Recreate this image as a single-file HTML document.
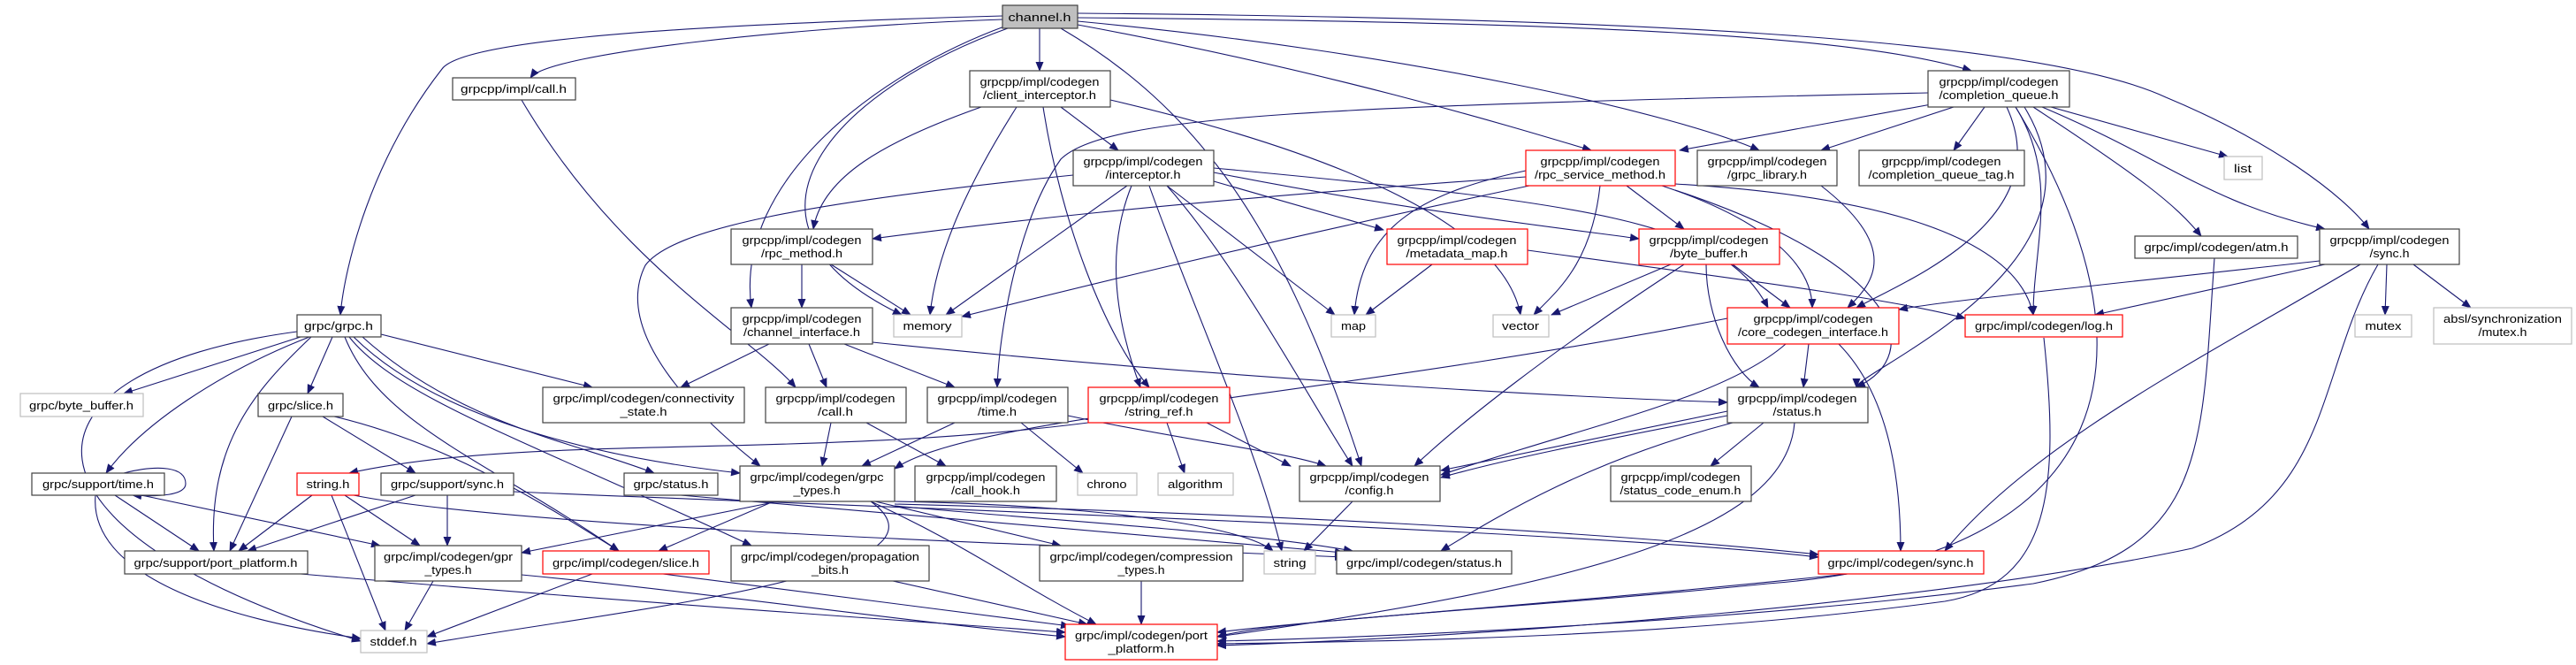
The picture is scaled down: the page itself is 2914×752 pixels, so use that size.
<!DOCTYPE html>
<html><head><meta charset="utf-8"><style>
html,body{margin:0;padding:0;background:#fff;}
svg{display:block;}
text{font-family:"Liberation Sans","DejaVu Sans",sans-serif;font-size:13px;fill:#000;text-anchor:middle;}
.e{fill:none;stroke:#191970;stroke-width:1.1;}
.n{fill:#fff;stroke:#404040;stroke-width:1.2;}
.r{fill:#fff;stroke:#ff0000;stroke-width:1.2;}
.g{fill:#fff;stroke:#bfbfbf;stroke-width:1.2;}
</style></head><body>
<svg width="2914" height="752" viewBox="0 0 2914 752" xmlns="http://www.w3.org/2000/svg">
<defs><marker id="a" markerWidth="11" markerHeight="9" refX="10" refY="4.5" orient="auto" markerUnits="userSpaceOnUse"><path d="M0,0 L11,4.5 L0,9 z" fill="#191970"/></marker></defs>
<g class="e" marker-end="url(#a)">
<path d="M1134 22 C900 30 620 60 600 88"/>
<path d="M1134 18 C700 30 520 50 500 78 C420 180 390 300 385 356"/>
<path d="M1176 32 L1176 80"/>
<path d="M1219 20 C1800 25 2100 40 2230 80"/>
<path d="M1219 28 C1500 80 1700 140 1800 170"/>
<path d="M1219 24 C1600 60 1900 130 1990 170"/>
<path d="M1219 15 C1800 20 2300 40 2450 110 C2570 160 2650 220 2680 259"/>
<path d="M1140 32 C950 100 800 250 1020 356"/>
<path d="M1136 30 C1000 80 830 200 850 348"/>
<path d="M1200 32 C1350 120 1450 250 1540 527"/>
<path d="M590 113 C700 300 850 380 900 438"/>
<path d="M340 381 L140 445"/>
<path d="M376 381 L348 445"/>
<path d="M350 381 C250 420 160 480 120 535"/>
<path d="M352 381 C290 440 235 500 242 623"/>
<path d="M431 378 L670 438"/>
<path d="M400 381 C500 480 700 520 837 535"/>
<path d="M410 381 C520 480 650 500 740 535"/>
<path d="M390 381 C430 480 550 520 700 623"/>
<path d="M395 381 C450 450 600 500 850 617"/>
<path d="M336 375 C0 420 0 600 408 725"/>
<path d="M1110 121 C1000 160 930 200 920 259"/>
<path d="M1150 121 C1100 200 1060 280 1052 356"/>
<path d="M1200 121 L1265 170"/>
<path d="M1180 121 C1200 250 1250 380 1300 438"/>
<path d="M1256 113 C1500 170 1700 250 1720 356"/>
<path d="M2190 117 L1900 170"/>
<path d="M2210 121 L2060 170"/>
<path d="M2245 121 L2210 170"/>
<path d="M2320 121 L2520 177"/>
<path d="M2300 121 C2420 200 2460 230 2490 267"/>
<path d="M2310 121 C2450 180 2500 230 2630 259"/>
<path d="M2280 121 C2330 200 2300 280 2300 356"/>
<path d="M2270 121 C2330 250 2150 320 2100 348"/>
<path d="M2290 121 C2400 300 2100 420 2100 438"/>
<path d="M2181 105 C1500 120 1250 130 1200 180 C1150 250 1130 380 1128 438"/>
<path d="M2280 121 C2450 400 2400 630 2000 660 C1700 690 1450 700 1377 720"/>
<path d="M1275 210 L1070 356"/>
<path d="M1320 210 L1510 356"/>
<path d="M1373 205 L1565 260"/>
<path d="M1373 195 C1600 240 1800 262 1854 270"/>
<path d="M1373 190 C1800 230 1950 250 2000 348"/>
<path d="M1320 210 C1400 300 1480 450 1530 527"/>
<path d="M1300 210 C1350 350 1420 500 1450 623"/>
<path d="M1280 210 C1260 260 1250 330 1290 438"/>
<path d="M1214 198 C900 230 760 260 730 300 C690 380 800 480 860 527"/>
<path d="M1726 200 C1300 230 1100 255 987 270"/>
<path d="M1730 210 C1400 280 1200 330 1088 358"/>
<path d="M1726 193 C1600 220 1540 260 1532 356"/>
<path d="M1810 210 C1800 300 1760 330 1735 356"/>
<path d="M1840 210 L1905 259"/>
<path d="M1880 210 C2000 250 2050 300 2050 348"/>
<path d="M1895 208 C2100 220 2280 260 2300 356"/>
<path d="M1895 215 C2150 300 2180 400 2100 438"/>
<path d="M2060 210 C2150 280 2120 320 2090 348"/>
<path d="M1620 299 L1545 356"/>
<path d="M1728 283 C2000 320 2150 340 2223 360"/>
<path d="M1890 299 L1755 356"/>
<path d="M1960 299 L2025 348"/>
<path d="M1930 299 C1930 360 1960 420 1990 438"/>
<path d="M1905 299 C1750 400 1650 480 1600 527"/>
<path d="M2624 295 C2400 320 2200 340 2148 350"/>
<path d="M2630 299 L2370 356"/>
<path d="M2700 299 L2698 356"/>
<path d="M2730 299 L2795 348"/>
<path d="M2670 299 C2500 400 2300 500 2200 623"/>
<path d="M2690 299 C2620 420 2640 560 2480 620 C2200 680 1700 720 1377 730"/>
<path d="M2505 292 C2490 500 2500 620 2300 660 C2000 700 1600 720 1377 725"/>
<path d="M2312 382 C2330 550 2320 660 2200 680 C1900 720 1600 725 1377 728"/>
<path d="M2046 389 L2040 438"/>
<path d="M2020 389 C1950 450 1800 480 1630 537"/>
<path d="M1954 360 C1500 450 1100 470 1012 530"/>
<path d="M2080 389 C2140 450 2150 550 2150 623"/>
<path d="M870 389 L770 438"/>
<path d="M915 389 L935 438"/>
<path d="M955 389 L1080 438"/>
<path d="M987 387 C1400 430 1800 450 1954 455"/>
<path d="M907 299 L907 348"/>
<path d="M940 299 L1030 356"/>
<path d="M940 478 L930 527"/>
<path d="M980 478 L1070 527"/>
<path d="M1080 478 L975 527"/>
<path d="M1155 478 L1225 535"/>
<path d="M1208 470 C1350 500 1450 510 1500 527"/>
<path d="M1320 478 L1340 535"/>
<path d="M1365 478 L1460 527"/>
<path d="M1231 478 C900 520 600 490 395 535"/>
<path d="M1954 465 L1630 532"/>
<path d="M1954 470 C1800 500 1700 520 1630 540"/>
<path d="M1995 478 L1935 527"/>
<path d="M1960 478 C1800 520 1700 580 1630 623"/>
<path d="M2030 478 C2020 600 1800 660 1377 720"/>
<path d="M1530 567 L1475 623"/>
<path d="M880 567 L590 625"/>
<path d="M875 567 L745 623"/>
<path d="M990 567 L1200 617"/>
<path d="M1012 567 C1200 570 1400 590 1440 623"/>
<path d="M985 567 C1100 620 1150 660 1240 706"/>
<path d="M985 567 C1100 650 700 690 483 728"/>
<path d="M1012 570 C1400 580 1800 600 2057 627"/>
<path d="M1012 572 C1200 590 1400 600 1530 623"/>
<path d="M330 471 L260 623"/>
<path d="M365 471 L470 535"/>
<path d="M378 471 C500 500 600 560 700 623"/>
<path d="M140 535 C180 525 210 528 210 547 C210 560 180 562 150 560"/>
<path d="M130 560 L225 623"/>
<path d="M108 560 C100 650 250 700 408 722"/>
<path d="M160 560 L430 617"/>
<path d="M353 560 L270 623"/>
<path d="M375 560 L436 713"/>
<path d="M390 560 L475 617"/>
<path d="M400 560 C600 600 1300 620 1520 630"/>
<path d="M470 560 L280 623"/>
<path d="M506 560 L506 617"/>
<path d="M581 556 C900 570 1800 600 2057 630"/>
<path d="M770 560 L1520 625"/>
<path d="M340 649 C700 680 1000 700 1205 715"/>
<path d="M490 657 L458 713"/>
<path d="M590 650 C800 670 1000 700 1205 720"/>
<path d="M670 649 L483 720"/>
<path d="M750 649 L1210 708"/>
<path d="M1010 657 L1230 706"/>
<path d="M1291 657 L1291 706"/>
<path d="M2090 649 C1800 680 1500 700 1377 715"/>
</g>
<!-- nodes -->
<rect x="1134" y="6" width="85" height="26" fill="#bfbfbf" stroke="#404040" stroke-width="1.2"/><text x="1176" y="24" textLength="71" lengthAdjust="spacingAndGlyphs">channel.h</text>
<rect class="n" x="512" y="88" width="139" height="25"/><text x="581" y="105" textLength="120" lengthAdjust="spacingAndGlyphs">grpcpp/impl/call.h</text>
<rect class="n" x="336" y="356" width="95" height="25"/><text x="383" y="373" textLength="78" lengthAdjust="spacingAndGlyphs">grpc/grpc.h</text>
<rect class="n" x="1097" y="80" width="159" height="41"/><text x="1176" y="97" textLength="135" lengthAdjust="spacingAndGlyphs">grpcpp/impl/codegen</text><text x="1176" y="112" textLength="128" lengthAdjust="spacingAndGlyphs">/client_interceptor.h</text>
<rect class="n" x="1214" y="170" width="159" height="40"/><text x="1293" y="187" textLength="135" lengthAdjust="spacingAndGlyphs">grpcpp/impl/codegen</text><text x="1293" y="202" textLength="85" lengthAdjust="spacingAndGlyphs">/interceptor.h</text>
<rect class="n" x="827" y="259" width="160" height="40"/><text x="907" y="276" textLength="135" lengthAdjust="spacingAndGlyphs">grpcpp/impl/codegen</text><text x="907" y="291" textLength="92" lengthAdjust="spacingAndGlyphs">/rpc_method.h</text>
<rect class="n" x="827" y="348" width="160" height="41"/><text x="907" y="365" textLength="135" lengthAdjust="spacingAndGlyphs">grpcpp/impl/codegen</text><text x="907" y="380" textLength="132" lengthAdjust="spacingAndGlyphs">/channel_interface.h</text>
<rect class="g" x="1011" y="356" width="77" height="25"/><text x="1049" y="373" textLength="55" lengthAdjust="spacingAndGlyphs">memory</text>
<rect class="n" x="2181" y="80" width="160" height="41"/><text x="2261" y="97" textLength="135" lengthAdjust="spacingAndGlyphs">grpcpp/impl/codegen</text><text x="2261" y="112" textLength="135" lengthAdjust="spacingAndGlyphs">/completion_queue.h</text>
<rect class="r" x="1726" y="170" width="169" height="40"/><text x="1810" y="187" textLength="135" lengthAdjust="spacingAndGlyphs">grpcpp/impl/codegen</text><text x="1810" y="202" textLength="148" lengthAdjust="spacingAndGlyphs">/rpc_service_method.h</text>
<rect class="n" x="1920" y="170" width="158" height="40"/><text x="1999" y="187" textLength="135" lengthAdjust="spacingAndGlyphs">grpcpp/impl/codegen</text><text x="1999" y="202" textLength="90" lengthAdjust="spacingAndGlyphs">/grpc_library.h</text>
<rect class="n" x="2103" y="170" width="187" height="40"/><text x="2196" y="187" textLength="135" lengthAdjust="spacingAndGlyphs">grpcpp/impl/codegen</text><text x="2196" y="202" textLength="165" lengthAdjust="spacingAndGlyphs">/completion_queue_tag.h</text>
<rect class="g" x="2516" y="177" width="43" height="26"/><text x="2537" y="195" textLength="20" lengthAdjust="spacingAndGlyphs">list</text>
<rect class="n" x="2415" y="267" width="184" height="25"/><text x="2507" y="284" textLength="163" lengthAdjust="spacingAndGlyphs">grpc/impl/codegen/atm.h</text>
<rect class="n" x="2624" y="259" width="158" height="40"/><text x="2703" y="276" textLength="135" lengthAdjust="spacingAndGlyphs">grpcpp/impl/codegen</text><text x="2703" y="291" textLength="45" lengthAdjust="spacingAndGlyphs">/sync.h</text>
<rect class="g" x="2664" y="356" width="64" height="25"/><text x="2696" y="373" textLength="41" lengthAdjust="spacingAndGlyphs">mutex</text>
<rect class="g" x="2753" y="348" width="156" height="41"/><text x="2831" y="365" textLength="134" lengthAdjust="spacingAndGlyphs">absl/synchronization</text><text x="2831" y="380" textLength="55" lengthAdjust="spacingAndGlyphs">/mutex.h</text>
<rect class="r" x="2223" y="356" width="178" height="25"/><text x="2312" y="373" textLength="156" lengthAdjust="spacingAndGlyphs">grpc/impl/codegen/log.h</text>
<rect class="r" x="1569" y="259" width="159" height="40"/><text x="1648" y="276" textLength="135" lengthAdjust="spacingAndGlyphs">grpcpp/impl/codegen</text><text x="1648" y="291" textLength="115" lengthAdjust="spacingAndGlyphs">/metadata_map.h</text>
<rect class="r" x="1854" y="259" width="159" height="40"/><text x="1933" y="276" textLength="135" lengthAdjust="spacingAndGlyphs">grpcpp/impl/codegen</text><text x="1933" y="291" textLength="88" lengthAdjust="spacingAndGlyphs">/byte_buffer.h</text>
<rect class="g" x="1506" y="356" width="50" height="25"/><text x="1531" y="373" textLength="28" lengthAdjust="spacingAndGlyphs">map</text>
<rect class="g" x="1689" y="356" width="63" height="25"/><text x="1720" y="373" textLength="42" lengthAdjust="spacingAndGlyphs">vector</text>
<rect class="r" x="1954" y="348" width="194" height="41"/><text x="2051" y="365" textLength="135" lengthAdjust="spacingAndGlyphs">grpcpp/impl/codegen</text><text x="2051" y="380" textLength="170" lengthAdjust="spacingAndGlyphs">/core_codegen_interface.h</text>
<rect class="n" x="614" y="438" width="228" height="40"/><text x="728" y="455" textLength="205" lengthAdjust="spacingAndGlyphs">grpc/impl/codegen/connectivity</text><text x="728" y="470" textLength="53" lengthAdjust="spacingAndGlyphs">_state.h</text>
<rect class="g" x="23" y="445" width="139" height="26"/><text x="92" y="463" textLength="118" lengthAdjust="spacingAndGlyphs">grpc/byte_buffer.h</text>
<rect class="n" x="292" y="445" width="96" height="26"/><text x="340" y="463" textLength="74" lengthAdjust="spacingAndGlyphs">grpc/slice.h</text>
<rect class="n" x="866" y="438" width="159" height="40"/><text x="945" y="455" textLength="135" lengthAdjust="spacingAndGlyphs">grpcpp/impl/codegen</text><text x="945" y="470" textLength="40" lengthAdjust="spacingAndGlyphs">/call.h</text>
<rect class="n" x="1049" y="438" width="159" height="40"/><text x="1128" y="455" textLength="135" lengthAdjust="spacingAndGlyphs">grpcpp/impl/codegen</text><text x="1128" y="470" textLength="44" lengthAdjust="spacingAndGlyphs">/time.h</text>
<rect class="r" x="1231" y="438" width="160" height="40"/><text x="1311" y="455" textLength="135" lengthAdjust="spacingAndGlyphs">grpcpp/impl/codegen</text><text x="1311" y="470" textLength="77" lengthAdjust="spacingAndGlyphs">/string_ref.h</text>
<rect class="n" x="36" y="535" width="150" height="25"/><text x="111" y="552" textLength="126" lengthAdjust="spacingAndGlyphs">grpc/support/time.h</text>
<rect class="r" x="336" y="535" width="70" height="25"/><text x="371" y="552" textLength="49" lengthAdjust="spacingAndGlyphs">string.h</text>
<rect class="n" x="431" y="535" width="150" height="25"/><text x="506" y="552" textLength="128" lengthAdjust="spacingAndGlyphs">grpc/support/sync.h</text>
<rect class="n" x="706" y="535" width="106" height="25"/><text x="759" y="552" textLength="85" lengthAdjust="spacingAndGlyphs">grpc/status.h</text>
<rect class="n" x="837" y="527" width="175" height="40"/><text x="924" y="544" textLength="151" lengthAdjust="spacingAndGlyphs">grpc/impl/codegen/grpc</text><text x="924" y="559" textLength="53" lengthAdjust="spacingAndGlyphs">_types.h</text>
<rect class="n" x="1035" y="527" width="160" height="40"/><text x="1115" y="544" textLength="135" lengthAdjust="spacingAndGlyphs">grpcpp/impl/codegen</text><text x="1115" y="559" textLength="78" lengthAdjust="spacingAndGlyphs">/call_hook.h</text>
<rect class="g" x="1219" y="535" width="67" height="25"/><text x="1252" y="552" textLength="45" lengthAdjust="spacingAndGlyphs">chrono</text>
<rect class="g" x="1310" y="535" width="85" height="25"/><text x="1352" y="552" textLength="62" lengthAdjust="spacingAndGlyphs">algorithm</text>
<rect class="n" x="1470" y="527" width="159" height="40"/><text x="1549" y="544" textLength="135" lengthAdjust="spacingAndGlyphs">grpcpp/impl/codegen</text><text x="1549" y="559" textLength="55" lengthAdjust="spacingAndGlyphs">/config.h</text>
<rect class="n" x="1954" y="438" width="159" height="40"/><text x="2033" y="455" textLength="135" lengthAdjust="spacingAndGlyphs">grpcpp/impl/codegen</text><text x="2033" y="470" textLength="55" lengthAdjust="spacingAndGlyphs">/status.h</text>
<rect class="n" x="1822" y="527" width="159" height="40"/><text x="1901" y="544" textLength="135" lengthAdjust="spacingAndGlyphs">grpcpp/impl/codegen</text><text x="1901" y="559" textLength="137" lengthAdjust="spacingAndGlyphs">/status_code_enum.h</text>
<rect class="n" x="141" y="623" width="207" height="26"/><text x="244" y="641" textLength="185" lengthAdjust="spacingAndGlyphs">grpc/support/port_platform.h</text>
<rect class="n" x="424" y="617" width="166" height="40"/><text x="507" y="634" textLength="146" lengthAdjust="spacingAndGlyphs">grpc/impl/codegen/gpr</text><text x="507" y="649" textLength="53" lengthAdjust="spacingAndGlyphs">_types.h</text>
<rect class="r" x="614" y="623" width="188" height="26"/><text x="708" y="641" textLength="166" lengthAdjust="spacingAndGlyphs">grpc/impl/codegen/slice.h</text>
<rect class="n" x="827" y="617" width="224" height="40"/><text x="939" y="634" textLength="202" lengthAdjust="spacingAndGlyphs">grpc/impl/codegen/propagation</text><text x="939" y="649" textLength="42" lengthAdjust="spacingAndGlyphs">_bits.h</text>
<rect class="n" x="1176" y="617" width="230" height="40"/><text x="1291" y="634" textLength="207" lengthAdjust="spacingAndGlyphs">grpc/impl/codegen/compression</text><text x="1291" y="649" textLength="53" lengthAdjust="spacingAndGlyphs">_types.h</text>
<rect class="g" x="1430" y="623" width="58" height="26"/><text x="1459" y="641" textLength="37" lengthAdjust="spacingAndGlyphs">string</text>
<rect class="n" x="1512" y="623" width="198" height="26"/><text x="1611" y="641" textLength="176" lengthAdjust="spacingAndGlyphs">grpc/impl/codegen/status.h</text>
<rect class="r" x="2057" y="623" width="187" height="26"/><text x="2150" y="641" textLength="165" lengthAdjust="spacingAndGlyphs">grpc/impl/codegen/sync.h</text>
<rect class="g" x="408" y="713" width="75" height="25"/><text x="445" y="730" textLength="53" lengthAdjust="spacingAndGlyphs">stddef.h</text>
<rect class="r" x="1205" y="706" width="172" height="40"/><text x="1291" y="723" textLength="150" lengthAdjust="spacingAndGlyphs">grpc/impl/codegen/port</text><text x="1291" y="738" textLength="75" lengthAdjust="spacingAndGlyphs">_platform.h</text>
</svg>
</body></html>
